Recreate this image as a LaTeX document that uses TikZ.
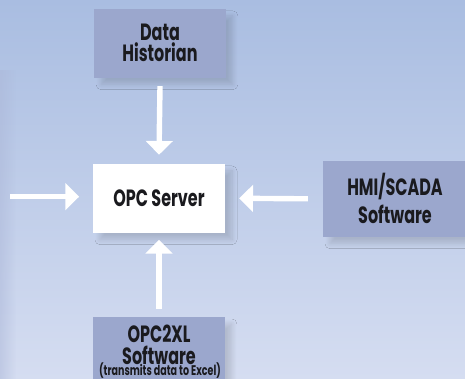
\documentclass[tikz,border=0pt]{standalone}
\usepackage{fontspec}
\newfontfamily\boxfont{Poppins}[FakeStretch=0.68]
\usetikzlibrary{arrows.meta,shadows.blur,fadings,calc}
\definecolor{bgtop}{RGB}{169,189,225}
\definecolor{bgbot}{RGB}{213,221,241}
\definecolor{boxfill}{RGB}{155,167,205}
\definecolor{txt}{RGB}{26,26,30}
\tikzset{
  boxshadow/.style={blur shadow={shadow xshift=7pt, shadow yshift=-7pt, shadow opacity=14,
    shadow blur steps=10, shadow blur radius=5pt}},
  bluebox/.style={fill=boxfill, draw=none, inner sep=0pt, align=center,
    text=txt, font=\boxfont\bfseries\fontsize{23.5}{21}\selectfont, boxshadow},
  whitebox/.style={fill=white, draw=none, inner sep=0pt, align=center,
    text=txt, font=\boxfont\bfseries\fontsize{23.5}{21}\selectfont, boxshadow},
  boxtext/.style={inner sep=0pt, align=center, text=txt, font=\boxfont\bfseries\fontsize{23.5}{21.3}\selectfont},
  subtext/.style={inner sep=0pt, text=txt, font=\boxfont\bfseries\fontsize{14}{14}\selectfont},
  flowarrow/.style={white, line width=5.4pt, -{Triangle[width=26.5pt,length=13.8pt]}}
}
\begin{document}
\begin{tikzpicture}[x=1pt,y=-1pt]
\useasboundingbox (0,0) rectangle (465,379);
\shade[top color=bgtop, bottom color=bgbot] (0,0) rectangle (465,379);
\fill[boxfill!70!bgbot, path fading=east, opacity=0.5] (0,70) rectangle (16,379);

\node[bluebox, minimum width=131.7pt, minimum height=68.7pt] (dh) at (160,43.3) {Data\\Historian};
\node[whitebox, minimum width=132pt, minimum height=68.7pt] (opc) at (159,198.3) {OPC Server};
\node[bluebox, minimum width=144pt, minimum height=75.7pt] (hmi) at (395,198.8)
  {HMI/SCADA\\[4pt]Software};
\node[bluebox, minimum width=131.7pt, minimum height=70pt, text height=0pt] (ox) at (159,352) {};
\node[boxtext, anchor=base] (oxt) at (159,364) {OPC2XL\\Software};
\node[subtext, anchor=base] (oxsub) at (160,375.4) {(transmits data to Excel)};
\coordinate (lin) at (10,196.7);

\draw[flowarrow] ([yshift=-8.3pt]dh.south) -- ([yshift=9pt]opc.north);
\draw[flowarrow] ([yshift=8.3pt]ox.north) -- ([yshift=-7pt]opc.south);
\draw[flowarrow] (lin) -- ($(lin -| opc.west)+(-13.7,0)$);
\draw[flowarrow] ([xshift=-15pt]hmi.west) -- ([xshift=14pt]opc.east);
\end{tikzpicture}
\end{document}
